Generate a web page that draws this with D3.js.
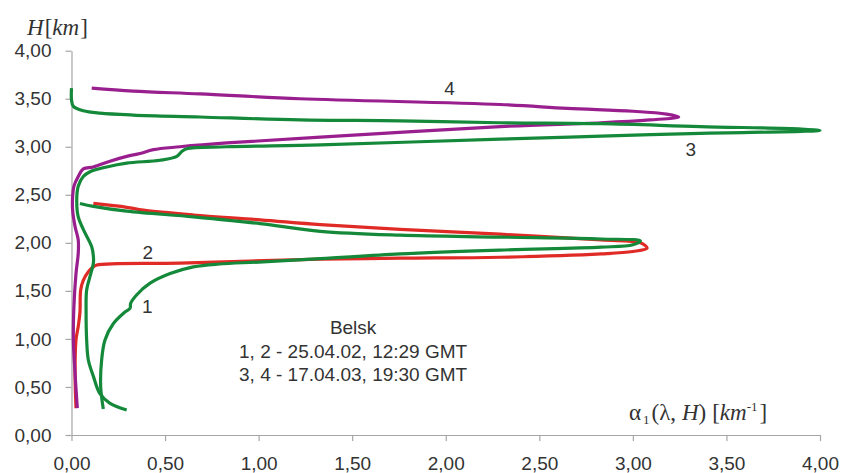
<!DOCTYPE html>
<html>
<head>
<meta charset="utf-8">
<script src="https://cdn.jsdelivr.net/npm/d3@7"></script>
<style>
    body { margin: 0; background: #fff; }
    svg { display: block; }
</style>
</head>
<body>
<div id="my_chart"></div>
<script>
// tick values of both axes (alpha on x, height H on y)
var xTicks = [0, 0.5, 1, 1.5, 2, 2.5, 3, 3.5, 4]
var yTicks = [0, 0.5, 1, 1.5, 2, 2.5, 3, 3.5, 4]

// profile 1 - green, 25.04.02  [alpha, H]
var curve1 = [[0.17, 0.27], [0.156, 0.50], [0.161, 0.78], [0.179, 0.99], [0.224, 1.16], [0.286, 1.28],
    [0.313, 1.32], [0.316, 1.37], [0.349, 1.46], [0.42, 1.58], [0.527, 1.68], [0.651, 1.75], [0.79, 1.78],
    [1.0, 1.80], [1.33, 1.835], [1.756, 1.885], [2.29, 1.925], [2.83, 1.955], [3.00, 1.98], [3.04, 2.02],
    [2.83, 2.04], [2.29, 2.06], [1.756, 2.08], [1.33, 2.12], [1.008, 2.20], [0.651, 2.27], [0.295, 2.33],
    [0.117, 2.38], [0.045, 2.41]]

// profile 2 - red, 25.04.02
var curve2 = [[0.024, 0.28], [0.019, 0.64], [0.024, 0.99], [0.036, 1.13], [0.045, 1.27], [0.049, 1.51],
    [0.063, 1.61], [0.09, 1.70], [0.117, 1.75], [0.135, 1.77], [0.58, 1.79], [1.33, 1.83], [1.756, 1.84],
    [2.29, 1.85], [2.83, 1.885], [3.00, 1.91], [3.076, 1.945], [3.04, 2.00], [2.83, 2.03], [2.29, 2.09],
    [1.756, 2.14], [1.33, 2.19], [1.008, 2.24], [0.651, 2.29], [0.384, 2.34], [0.295, 2.37], [0.117, 2.41]]

// profile 3 - green, 17.04.03
var curve3 = [[0.295, 0.26], [0.206, 0.33], [0.152, 0.43], [0.117, 0.61], [0.09, 0.78], [0.081, 0.99],
    [0.078, 1.27], [0.081, 1.51], [0.099, 1.65], [0.117, 1.79], [0.117, 1.86], [0.108, 1.96], [0.063, 2.14],
    [0.036, 2.27], [0.028, 2.45], [0.036, 2.59], [0.063, 2.69], [0.099, 2.74], [0.188, 2.79], [0.295, 2.83],
    [0.473, 2.86], [0.563, 2.90], [0.589, 2.95], [0.616, 2.98], [0.83, 3.00], [1.33, 3.02], [2.29, 3.08],
    [2.83, 3.11], [3.36, 3.14], [3.9, 3.16], [4.0, 3.17], [3.9, 3.185], [3.36, 3.21], [2.83, 3.24],
    [2.29, 3.25], [1.756, 3.27], [1.22, 3.28], [0.687, 3.31], [0.33, 3.33], [0.152, 3.35], [0.063, 3.375],
    [0.01, 3.42], [0.0, 3.49], [0.0, 3.61]]

// profile 4 - purple, 17.04.03
var curve4 = [[0.031, 0.28], [0.019, 0.64], [0.01, 0.99], [0.013, 1.34], [0.024, 1.68], [0.036, 1.89],
    [0.036, 2.03], [0.019, 2.17], [0.006, 2.34], [0.006, 2.48], [0.013, 2.59], [0.036, 2.69], [0.063, 2.77],
    [0.117, 2.79], [0.206, 2.85], [0.295, 2.90], [0.366, 2.93], [0.437, 2.97], [0.58, 3.00], [0.83, 3.04],
    [1.33, 3.10], [2.29, 3.21], [2.83, 3.25], [3.09, 3.28], [3.245, 3.31], [3.18, 3.34], [3.0, 3.37],
    [2.65, 3.40], [2.29, 3.44], [1.22, 3.50], [0.687, 3.55], [0.33, 3.58], [0.108, 3.61]]

// curve numbers and where they sit [label, alpha, H]
var curveLabels = [["1", 0.405, 1.34], ["2", 0.408, 1.90], ["3", 3.31, 2.97], ["4", 2.02, 3.61]]

// station / dates block
var noteLines = ["Belsk", "1, 2 - 25.04.02, 12:29 GMT", "3, 4 - 17.04.03, 19:30 GMT"]

/**
 * Format a tick value with a comma, like 1,50
 * @param {number} d - tick value
 */
function commaFormat(d) {
    return d3.format(".2f")(d).replace(".", ",")
}

/**
 * Draw the whole chart
 * @param {string} id - container
 */
function drawChart(id) {
    var width = 842
    var height = 473
    var left = 71.5, right = 820, top = 50.7, bottom = 435

    var svg = d3.select(id)
        .append("svg")
        .attr("width", width)
        .attr("height", height)

    var x = d3.scaleLinear().domain([0, 4]).range([left, right])
    var y = d3.scaleLinear().domain([0, 4]).range([bottom, top])

    // x axis
    var gx = svg.append("g")
        .attr("transform", "translate(0," + bottom + ")")
        .call(d3.axisBottom(x).tickValues(xTicks).tickFormat(commaFormat).tickSize(6).tickSizeOuter(0))
    // y axis
    var gy = svg.append("g")
        .attr("transform", "translate(" + left + ",0)")
        .call(d3.axisLeft(y).tickValues(yTicks).tickFormat(commaFormat).tickSize(6).tickSizeOuter(0))

    svg.selectAll(".domain, .tick line").attr("stroke", "#a6a6a6").attr("stroke-width", 1.2)
    svg.selectAll(".tick text")
        .attr("fill", "#333")
        .style("font-family", "'Liberation Sans', Arial, sans-serif")
        .style("font-size", "19px")
    gx.selectAll(".tick text").attr("dy", "0").attr("y", 35)
    gy.selectAll(".tick text").attr("x", -20)

    // the four profiles
    var line = d3.line()
        .x(function (d) { return x(d[0]) })
        .y(function (d) { return y(d[1]) })
        .curve(d3.curveCatmullRom.alpha(0.5))

    var series = [
        { data: curve2, color: "#e02a26" },
        { data: curve4, color: "#9a1f8e" },
        { data: curve3, color: "#14893a" },
        { data: curve1, color: "#14893a" }
    ]
    svg.selectAll("path.profile")
        .data(series)
        .enter()
        .append("path")
        .attr("class", "profile")
        .attr("d", function (d) { return line(d.data) })
        .attr("fill", "none")
        .attr("stroke", function (d) { return d.color })
        .attr("stroke-width", 3.2)
        .attr("stroke-linejoin", "round")

    // curve numbers
    svg.selectAll("text.num")
        .data(curveLabels)
        .enter()
        .append("text")
        .attr("class", "num")
        .attr("x", function (d) { return x(d[1]) })
        .attr("y", function (d) { return y(d[2]) })
        .attr("dy", "0.35em")
        .attr("text-anchor", "middle")
        .attr("fill", "#333")
        .style("font-family", "'Liberation Sans', Arial, sans-serif")
        .style("font-size", "19px")
        .text(function (d) { return d[0] })

    // note block
    svg.selectAll("text.note")
        .data(noteLines)
        .enter()
        .append("text")
        .attr("class", "note")
        .attr("x", x(1.505))
        .attr("y", function (d, i) { return y(1.12) + i * 23.5 })
        .attr("dy", "0.35em")
        .attr("text-anchor", "middle")
        .attr("fill", "#333")
        .style("font-family", "'Liberation Sans', Arial, sans-serif")
        .style("font-size", "19px")
        .text(function (d) { return d })

    // y title  H[km]
    var ty = svg.append("text")
        .attr("x", 27)
        .attr("y", 35)
        .attr("fill", "#333")
        .style("font-family", "'Liberation Serif', 'Times New Roman', serif")
        .style("font-size", "23px")
    ty.append("tspan").style("font-style", "italic").text("H")
    ty.append("tspan").attr("dx", 1).text("[")
    ty.append("tspan").style("font-style", "italic").text("km")
    ty.append("tspan").attr("dx", 1).text("]")

    // x title  alpha_1(lambda, H) [km^-1]
    var tx = svg.append("text")
        .attr("x", 629)
        .attr("y", 420)
        .attr("fill", "#333")
        .style("font-family", "'Liberation Serif', 'Times New Roman', serif")
        .style("font-size", "23px")
    tx.append("tspan").text("α")
    tx.append("tspan").attr("dy", 4).attr("dx", 2).style("font-size", "13px").text("1")
    tx.append("tspan").attr("dy", -4).attr("dx", 2).text("(λ, ")
    tx.append("tspan").style("font-style", "italic").text("H")
    tx.append("tspan").text(")")
    tx.append("tspan").attr("dx", 6).text("[")
    tx.append("tspan").style("font-style", "italic").text("km")
    tx.append("tspan").attr("dy", -9).style("font-size", "13px").text("-1")
    tx.append("tspan").attr("dy", 9).attr("dx", 2).text("]")
}

drawChart("#my_chart")
</script>
</body>
</html>
